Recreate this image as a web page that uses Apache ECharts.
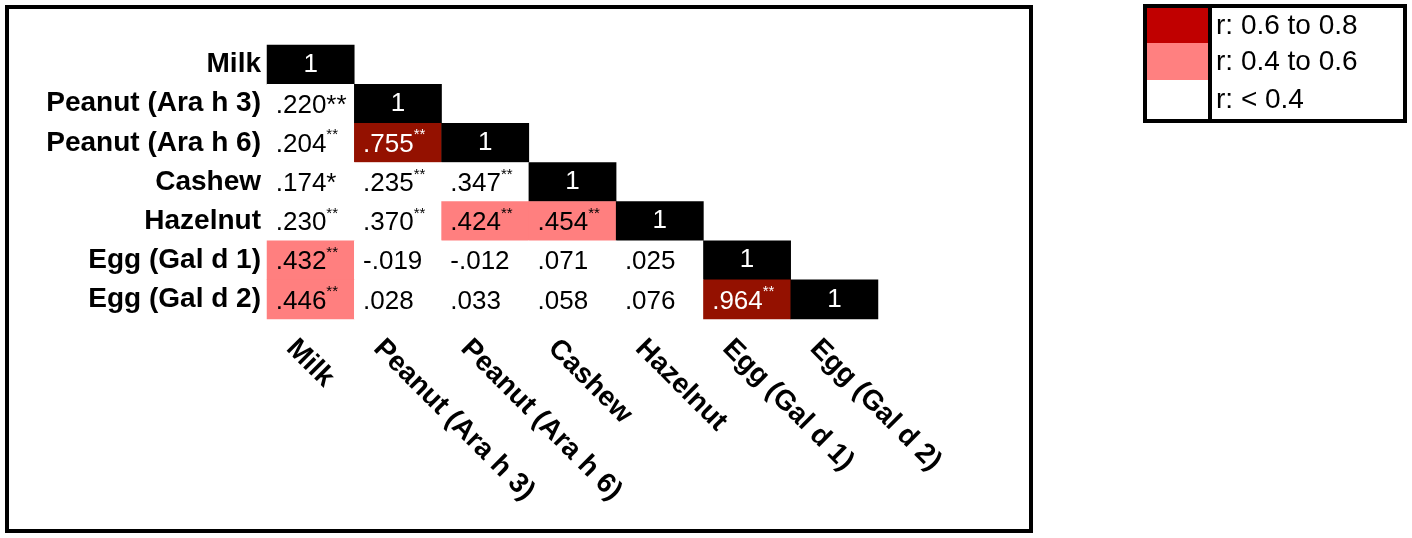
<!DOCTYPE html>
<html>
<head>
<meta charset="utf-8">
<script src="https://cdn.jsdelivr.net/npm/echarts@6/dist/echarts.min.js"></script>
<style>
  html, body { margin: 0; padding: 0; background: #fff; }
  #chart { width: 1412px; height: 538px; }
</style>
</head>
<body>
<div id="chart"></div>
<script>
// ---- Data ----
const categories = ['Milk', 'Peanut (Ara h 3)', 'Peanut (Ara h 6)', 'Cashew', 'Hazelnut', 'Egg (Gal d 1)', 'Egg (Gal d 2)'];

// Lower-triangle correlations (row i has i values, columns 0..i-1)
const corrRows = [
  [],
  [0.220],
  [0.204, 0.755],
  [0.174, 0.235, 0.347],
  [0.230, 0.370, 0.424, 0.454],
  [0.432, -0.019, -0.012, 0.071, 0.025],
  [0.446, 0.028, 0.033, 0.058, 0.076, 0.964]
];

// Significance marks per cell
const starRows = [
  [],
  ['**'],
  ['**', '**'],
  ['*', '**', '**'],
  ['**', '**', '**', '**'],
  ['**', '', '', '', ''],
  ['**', '', '', '', '', '**']
];

// Cells whose stars are printed at full size rather than as superscript [row, col]
const inlineStarCells = [[1, 0], [3, 0]];

const legendLabels = ['r: 0.6 to 0.8', 'r: 0.4 to 0.6', 'r: < 0.4'];

// ---- Styling helpers ----
const FONT = 'Liberation Sans, Arial, sans-serif';
const VAL_SIZE = 26;
function cellColor(v) {
  if (v >= 1) return '#000000';
  if (v >= 0.6) return '#941100';
  if (v >= 0.4) return '#FF7F7F';
  return '#FFFFFF';
}
function fmt(v) {
  const s = Math.abs(v).toFixed(3).replace(/^0/, '');
  return (v < 0 ? '-' : '') + s;
}
function isInline(r, c) {
  return inlineStarCells.some(p => p[0] === r && p[1] === c);
}

const data = [];
for (let r = 0; r < categories.length; r++) {
  for (let c = 0; c < r; c++) {
    const v = corrRows[r][c];
    const dark = v >= 0.6;
    const col = dark ? '#fff' : '#000';
    data.push({
      value: [c, r, v],
      stars: starRows[r][c],
      inlineStars: isInline(r, c),
      itemStyle: { color: cellColor(v) },
      label: { color: col, rich: {
        n: { fontSize: VAL_SIZE, fontFamily: FONT, color: col, verticalAlign: 'bottom', lineHeight: 30 },
        s: { fontSize: 15, fontFamily: FONT, color: col, verticalAlign: 'top', lineHeight: 30 }
      } }
    });
  }
  // diagonal
  data.push({
    value: [r, r, 1],
    diag: true,
    itemStyle: { color: cellColor(1) },
    label: { position: 'inside', color: '#fff' }
  });
}

const chart = echarts.init(document.getElementById('chart'), null, { renderer: 'canvas' });

const legendTop = 8, legendRowH = [35, 37, 38];
const legendGraphics = [];
let yy = legendTop;
const swatchColors = ['#C00000', '#FF8080', '#FFFFFF'];
legendLabels.forEach((t, i) => {
  legendGraphics.push({
    type: 'rect', shape: { x: 1147, y: yy, width: 62, height: legendRowH[i] },
    style: { fill: swatchColors[i] }, z: 1
  });
  legendGraphics.push({
    type: 'text', x: 1216, y: yy + legendRowH[i] / 2 + 1,
    style: { text: t, font: '28px ' + FONT, fill: '#000', textVerticalAlign: 'middle' }, z: 2
  });
  yy += legendRowH[i];
});

const option = {
  animation: false,
  backgroundColor: '#fff',
  grid: [
    { left: 267, top: 45, width: 611, height: 274 },
    { left: 247, top: 45, width: 611, height: 274 }
  ],
  xAxis: [
    {
      type: 'category', gridIndex: 0, data: categories,
      axisLine: { show: false }, axisTick: { show: false }, axisLabel: { show: false },
      splitLine: { show: false }
    },
    {
      type: 'category', gridIndex: 1, data: categories,
      axisLine: { show: false }, axisTick: { show: false }, splitLine: { show: false },
      axisLabel: {
        rotate: -45, interval: 0, margin: 25,
        fontSize: 28, fontWeight: 'bold', fontFamily: FONT, color: '#000'
      }
    }
  ],
  yAxis: [
    {
      type: 'category', gridIndex: 0, data: categories, inverse: true,
      axisLine: { show: false }, axisTick: { show: false }, splitLine: { show: false },
      axisLabel: { margin: 6, fontSize: 28, fontWeight: 'bold', fontFamily: FONT, color: '#000' }
    },
    {
      type: 'category', gridIndex: 1, data: categories, show: false
    }
  ],
  series: [{
    type: 'heatmap',
    xAxisIndex: 0, yAxisIndex: 0,
    data: data,
    itemStyle: { borderWidth: 0 },
    emphasis: { disabled: true },
    label: {
      show: true,
      position: 'insideLeft',
      distance: 9,
      fontSize: VAL_SIZE,
      fontFamily: FONT,
      formatter: function (p) {
        const d = p.data;
        if (d.diag) return '1';
        const num = fmt(d.value[2]);
        if (!d.stars) return '{n|' + num + '}';
        if (d.inlineStars) return '{n|' + num + d.stars + '}';
        return '{n|' + num + '}{s|' + d.stars + '}';
      }
    }
  }],
  graphic: [
    {
      type: 'rect', shape: { x: 7, y: 7, width: 1024, height: 524 },
      style: { fill: 'none', stroke: '#000', lineWidth: 4 }, z: 10
    },
    ...legendGraphics,
    {
      type: 'rect', shape: { x: 1145, y: 6, width: 260, height: 115 },
      style: { fill: 'none', stroke: '#000', lineWidth: 4 }, z: 10
    },
    {
      type: 'line', shape: { x1: 1210, y1: 6, x2: 1210, y2: 121 },
      style: { stroke: '#000', lineWidth: 4 }, z: 10
    }
  ]
};

chart.setOption(option);
</script>
</body>
</html>
